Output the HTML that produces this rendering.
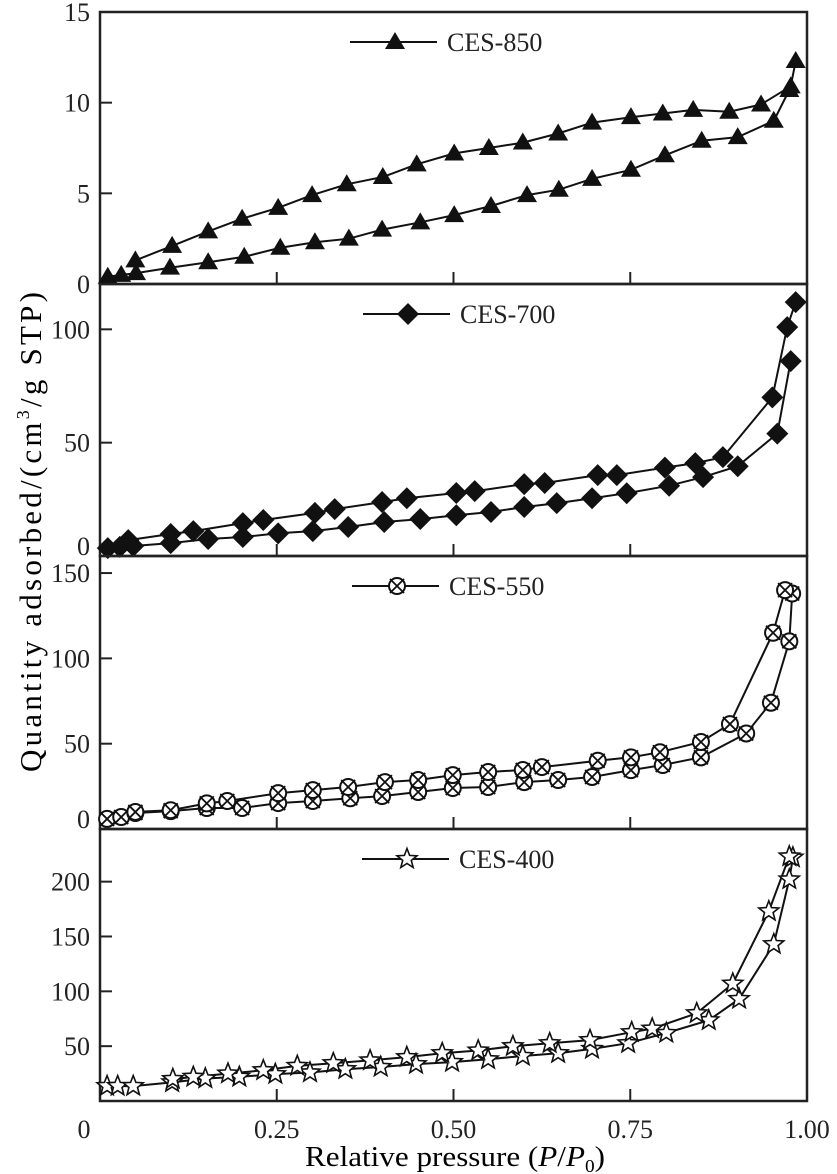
<!DOCTYPE html>
<html><head><meta charset="utf-8"><style>
html,body{margin:0;padding:0;background:#fff;}
svg{display:block;font-family:"Liberation Serif",serif;}
text{font-family:"Liberation Serif",serif;}
</style></head><body>
<svg id="chart" width="837" height="1174" viewBox="0 0 837 1174">
<text x="455" y="1166" font-size="29" text-anchor="middle" textLength="300" lengthAdjust="spacingAndGlyphs" font-family="Liberation Serif, serif">Relative pressure (<tspan font-style="italic">P</tspan>/<tspan font-style="italic">P</tspan><tspan font-size="18" dy="6">0</tspan><tspan dy="-6">)</tspan></text>
<text transform="translate(41,532) rotate(-90)" font-size="31" text-anchor="middle" textLength="480" lengthAdjust="spacing" font-family="Liberation Serif, serif">Quantity adsorbed/(cm<tspan font-size="18" dy="-12">3</tspan><tspan dy="12">/g STP)</tspan></text>
</svg>
<script>
const xTicks = [0, 0.25, 0.5, 0.75, 1.0];
const xTickLabels = ["0", "0.25", "0.50", "0.75", "1.00"];
const panelNames = ["CES-850", "CES-700", "CES-550", "CES-400"];
const panelMax = [15, 120, 160, 248];
const yTicks850 = [0, 5, 10, 15];
const yTicks700 = [0, 50, 100];
const yTicks550 = [0, 50, 100, 150];
const yTicks400 = [50, 100, 150, 200];
const p850a = [0.011,0.030,0.051,0.099,0.153,0.204,0.255,0.304,0.352,0.399,0.453,0.501,0.553,0.604,0.649,0.696,0.751,0.799,0.851,0.902,0.953,0.975];
const v850a = [0.4,0.5,0.6,0.9,1.2,1.5,2.0,2.3,2.5,3.0,3.4,3.8,4.3,4.9,5.2,5.8,6.3,7.1,7.9,8.1,9.0,10.7];
const p850d = [0.050,0.102,0.153,0.201,0.252,0.300,0.349,0.400,0.448,0.501,0.550,0.598,0.648,0.696,0.751,0.796,0.839,0.890,0.935,0.977,0.984];
const v850d = [1.3,2.1,2.9,3.6,4.2,4.9,5.5,5.9,6.6,7.2,7.5,7.8,8.3,8.9,9.2,9.4,9.6,9.5,9.9,10.9,12.3];
const p700a = [0.011,0.028,0.047,0.100,0.153,0.202,0.252,0.301,0.351,0.402,0.453,0.504,0.553,0.600,0.646,0.696,0.745,0.805,0.853,0.902,0.958,0.977];
const v700a = [3.5,4,4.4,5.7,7.5,8.4,10,11,12.8,15,16.3,18,19.4,21.6,23.3,25.5,27.7,31,34.8,39.6,54,86];
const p700d = [0.040,0.100,0.132,0.202,0.231,0.304,0.332,0.399,0.434,0.504,0.530,0.600,0.629,0.704,0.731,0.799,0.842,0.881,0.951,0.972,0.984];
const v700d = [7,9.7,11,14.5,15.9,19,20.7,23.8,25.5,27.8,28.6,31.7,32.2,35.7,35.7,39,41,43.6,70,101,112];
const p550a = [0.010,0.030,0.050,0.100,0.151,0.201,0.252,0.301,0.354,0.399,0.450,0.499,0.549,0.600,0.648,0.696,0.751,0.796,0.850,0.914,0.949,0.975,0.979];
const v550a = [5.9,7,9.4,10.5,12.3,12.3,15.2,16.4,18,19.3,21.7,24,24.6,27.5,28.7,30.5,34.5,37.5,42,56,74,110,138];
const p550d = [0.050,0.100,0.151,0.180,0.252,0.301,0.351,0.403,0.450,0.499,0.549,0.598,0.625,0.704,0.751,0.792,0.850,0.891,0.952,0.969];
const v550d = [10,11,15,16.4,21,22.8,24.6,27.5,28.7,31.6,33.4,34.6,36.3,40,42,45,51,61.5,115,140];
const p400a = [0.010,0.025,0.047,0.102,0.149,0.197,0.248,0.297,0.347,0.397,0.447,0.498,0.549,0.598,0.648,0.696,0.747,0.801,0.861,0.904,0.953,0.975,0.980];
const v400a = [13.6,13.6,13.6,17,20.5,22,24.5,26,29,31,33.6,35.5,38,41,43.6,47.5,52.7,62,73.6,93,143,202,222];
const p400d = [0.103,0.132,0.181,0.231,0.279,0.330,0.382,0.434,0.484,0.535,0.584,0.636,0.693,0.752,0.781,0.844,0.895,0.946,0.975];
const v400d = [20,22,25,28,32,34.5,37,40,43.6,46,50,52.7,55.5,62.7,66,80,107,173,223];

const NS = "http://www.w3.org/2000/svg";
const svg = document.getElementById("chart");
const X0 = 100, X1 = 807;
const panelTop = [12, 284, 556, 829];
const panelBot = [284, 556, 829, 1101];
const legendX = [395, 408, 397, 407];
const yTickSets = [yTicks850, yTicks700, yTicks550, yTicks400];
const series = [[p850a,v850a,p850d,v850d],[p700a,v700a,p700d,v700d],[p550a,v550a,p550d,v550d],[p400a,v400a,p400d,v400d]];
const markers = ["triangle","diamond","circx","star"];
function xs(p){ return X0 + p*(X1-X0); }
function ysFor(i){ return v => panelBot[i] - v/panelMax[i]*(panelBot[i]-panelTop[i]); }
function mk(tag, attrs, parent){ const e=document.createElementNS(NS,tag); for(const k in attrs) e.setAttribute(k,attrs[k]); (parent||svg).appendChild(e); return e; }
function marker(type, x, y, g){
  let e;
  if(type==="triangle"){
    e = mk("polygon",{points:`${x},${y-10} ${x-10},${y+7} ${x+10},${y+7}`,fill:"#111"},g);
  } else if(type==="diamond"){
    e = mk("polygon",{points:`${x},${y-11} ${x+11},${y} ${x},${y+11} ${x-11},${y}`,fill:"#111"},g);
  } else if(type==="circx"){
    e = mk("g",{},g);
    mk("circle",{cx:x,cy:y,r:8,fill:"#fff",stroke:"#111","stroke-width":2},e);
    mk("path",{d:`M${x-7} ${y-7}L${x+7} ${y+7}M${x+7} ${y-7}L${x-7} ${y+7}`,stroke:"#111","stroke-width":1.8},e);
  } else {
    let pts=[];
    for(let k=0;k<10;k++){ const r=k%2?4.5:10.5; const a=-Math.PI/2+k*Math.PI/5; pts.push((x+r*Math.cos(a)).toFixed(1)+","+(y+r*Math.sin(a)).toFixed(1)); }
    e = mk("polygon",{points:pts.join(" "),fill:"#fff",stroke:"#111","stroke-width":1.6},g);
  }
  return e;
}
for(let i=0;i<4;i++){
  const ys = ysFor(i);
  const g = mk("g",{});
  
  
  const frame = mk("rect",{x:X0,y:panelTop[i],width:X1-X0,height:panelBot[i]-panelTop[i],fill:"none",stroke:"#222","stroke-width":2.5},g);
  
  
  yTickSets[i].forEach(t=>{
    const y = ys(t);
    if(t>0 && y>panelTop[i]+1) mk("line",{x1:X0,x2:X0+12,y1:y,y2:y,stroke:"#222","stroke-width":2},g);
    const lb = mk("text",{x:90,y:(t===0&&i>0?y-1:y+9),"font-size":26,"text-anchor":"end",fill:"#222"},g);
    lb.textContent = String(t);
    
    
  });
  xTicks.forEach(t=>{ if(t>0 && t<1) mk("line",{x1:xs(t),x2:xs(t),y1:panelBot[i],y2:panelBot[i]-12,stroke:"#222","stroke-width":2},g); });
  const s = series[i];
  [[s[0],s[1]],[s[2],s[3]]].forEach((pair,j)=>{
    const pts = pair[0].map((p,k)=>xs(p).toFixed(1)+","+ys(pair[1][k]).toFixed(1)).join(" ");
    const pl = mk("polyline",{points:pts,fill:"none",stroke:"#111","stroke-width":2},g);
    
    
  });
  [[s[0],s[1]],[s[2],s[3]]].forEach(pair=>{
    pair[0].forEach((p,k)=>{
      const m = marker(markers[i], xs(p), ys(pair[1][k]), g);
      
      
    });
  });
  const ly = panelTop[i] + 30;
  const lg = mk("g",{},g);
  
  
  mk("line",{x1:legendX[i]-45,x2:legendX[i]+42,y1:ly,y2:ly,stroke:"#111","stroke-width":2},lg);
  marker(markers[i], legendX[i], ly, lg);
  const lt = mk("text",{x:legendX[i]+52,y:ly+9,"font-size":26,fill:"#222"},lg);
  lt.textContent = panelNames[i];
}
xTicks.forEach((t,k)=>{
  const lb = mk("text",{x: k===0 ? 84 : xs(t), y:1138,"font-size":26,"text-anchor":"middle",fill:"#222"});
  lb.textContent = xTickLabels[k];
  
  
});
</script>
</body></html>
